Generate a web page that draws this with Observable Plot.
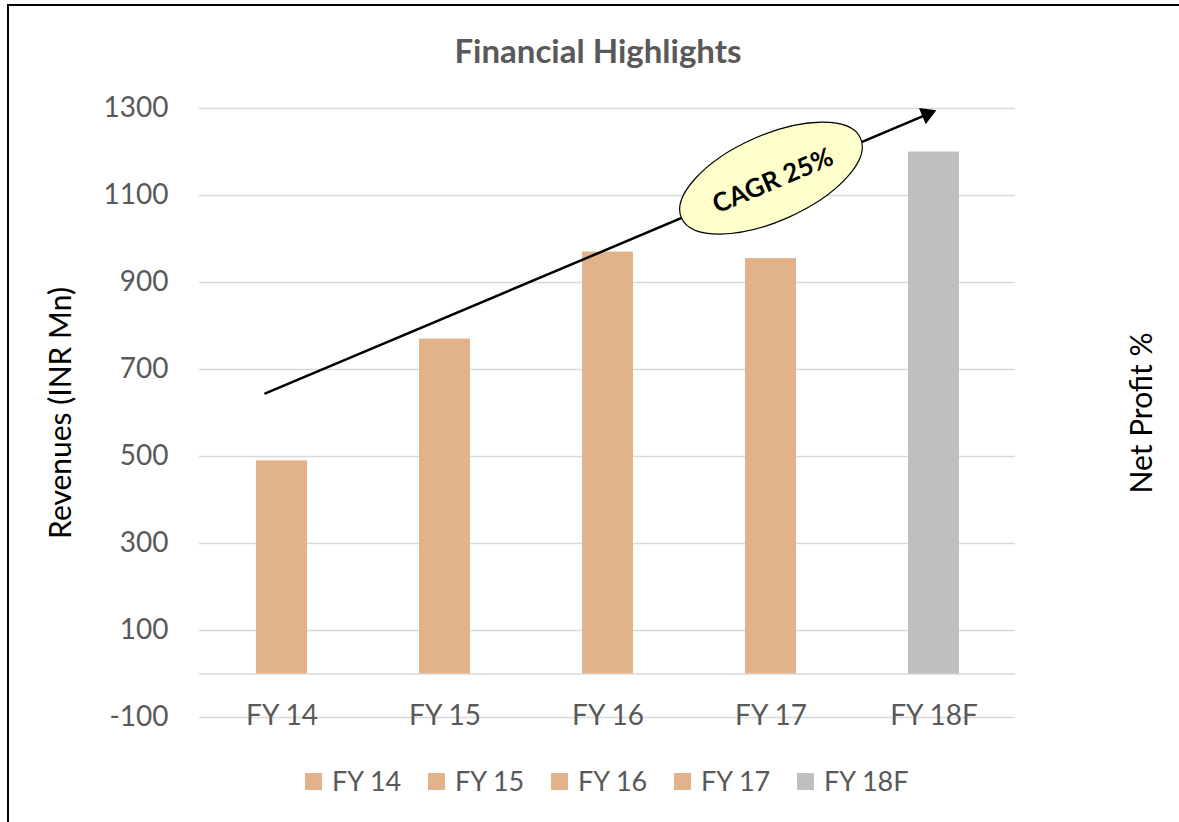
<!DOCTYPE html>
<html>
<head>
<meta charset="utf-8">
<script src="https://cdn.jsdelivr.net/npm/d3@7"></script>
<script src="https://cdn.jsdelivr.net/npm/@observablehq/plot@0.6"></script>
<style>
  html, body { margin: 0; padding: 0; background: #fff; }
  #wrap { position: relative; width: 1179px; height: 822px; overflow: hidden; font-family: Lato, "Open Sans", sans-serif; }
  #frame { position: absolute; left: 7px; top: 4px; width: 1300px; height: 900px; border-left: 2px solid #000; border-top: 2px solid #000; }
  #title { position: absolute; left: 0; top: 30px; width: 1196px; text-align: center; font-weight: 700; font-size: 33px; color: #595959; line-height: 40px; }
  #chart { position: absolute; left: 0; top: 80px; }
  #legend { position: absolute; left: 305px; top: 766px; display: flex; }
  .item { width: 123px; display: flex; align-items: center; font-size: 27px; color: #595959; line-height: 30px; }
  .sw { width: 17px; height: 17px; margin-right: 10px; flex: none; }
</style>
</head>
<body>
<div id="wrap">
  <div id="frame"></div>
  <div id="title">Financial Highlights</div>
  <div id="chart"></div>
  <div id="legend"></div>
</div>
<script>
// ---- data ----
const categories = ["FY 14", "FY 15", "FY 16", "FY 17", "FY 18F"];
const revenues = [490, 770, 970, 955, 1200];
const yTicks = [-100, 100, 300, 500, 700, 900, 1100, 1300];
const yLabel = "Revenues (INR Mn)";
const y2Label = "Net Profit %";
const cagrLabel = "CAGR 25%";
const cagrStart = {category: "FY 14", value: 661};
const cagrEnd = {category: "FY 18F", value: 1293};
const cagrBadge = {category: "FY 17", value: 1140};

// ---- styles ----
const tan = "#E2B28A";
const grey = "#BFBFBF";
const barColors = [tan, tan, tan, tan, grey];
const gridColor = "#D9D9D9";

const rows = categories.map((c, i) => ({category: c, value: revenues[i]}));

// ellipse symbol for the CAGR badge
const A = 98, B = 43, K = 0.5523;
const ellipseSymbol = {
  draw(ctx) {
    ctx.moveTo(A, 0);
    ctx.bezierCurveTo(A, K * B, K * A, B, 0, B);
    ctx.bezierCurveTo(-K * A, B, -A, K * B, -A, 0);
    ctx.bezierCurveTo(-A, -K * B, -K * A, -B, 0, -B);
    ctx.bezierCurveTo(K * A, -B, A, -K * B, A, 0);
    ctx.closePath();
  }
};

const chart = Plot.plot({
  width: 1179,
  height: 680,
  marginLeft: 199,
  marginRight: 164,
  marginTop: 28,
  marginBottom: 43,
  style: {fontFamily: "Lato, 'Open Sans', sans-serif", fontSize: "28px", background: "transparent"},
  x: {type: "band", domain: categories, paddingInner: 0.69, paddingOuter: 0.345},
  y: {domain: [-100, 1300]},
  color: {type: "ordinal", domain: categories, range: barColors},
  marks: [
    Plot.gridY(yTicks, {stroke: gridColor, strokeOpacity: 1, strokeWidth: 1.6}),
    Plot.ruleY([0], {stroke: gridColor, strokeWidth: 1.6}),
    Plot.barY(rows, {x: "category", y: "value", fill: "category"}),
    Plot.axisY(yTicks, {tickSize: 0, tickPadding: 31, fill: "#595959", fontSize: 28, label: null, tickFormat: d => String(d)}),
    Plot.axisX({tickSize: 0, tickPadding: 0, lineAnchor: "middle", dy: -1, fill: "#595959", fontSize: 28, label: null}),
    Plot.text([yLabel], {frameAnchor: "left", textAnchor: "middle", rotate: -90, dx: -138, fill: "#000", fontSize: 30}),
    Plot.text([y2Label], {frameAnchor: "right", textAnchor: "middle", rotate: -90, dx: 127, fill: "#000", fontSize: 30}),
    Plot.arrow([{x1: cagrStart.category, y1: cagrStart.value, x2: cagrEnd.category, y2: cagrEnd.value}], {
      x1: "x1", y1: "y1", x2: "x2", y2: "y2",
      stroke: "#000", strokeWidth: 2.5, headLength: 0, insetStart: -18, insetEnd: 8
    }),
    Plot.dot([cagrEnd], {x: "category", y: d => d.value - 6, dx: -7, symbol: "triangle", r: 6.5, fill: "#000", stroke: "none", rotate: 67}),
    Plot.dot([cagrBadge], {x: "category", y: "value", symbol: ellipseSymbol, r: 10, fill: "#FFFFCC", stroke: "#000", strokeWidth: 1.2, rotate: -24}),
    Plot.text([cagrBadge], {x: "category", y: "value", text: () => cagrLabel, rotate: -23, fontWeight: "bold", fontSize: 26, fill: "#000", dx: 2, dy: 3})
  ]
});
document.getElementById("chart").appendChild(chart);

const legend = document.getElementById("legend");
categories.forEach((c, i) => {
  const item = document.createElement("div");
  item.className = "item";
  const sw = document.createElement("span");
  sw.className = "sw";
  sw.style.background = barColors[i];
  const t = document.createElement("span");
  t.textContent = c;
  item.appendChild(sw);
  item.appendChild(t);
  legend.appendChild(item);
});
</script>
</body>
</html>
